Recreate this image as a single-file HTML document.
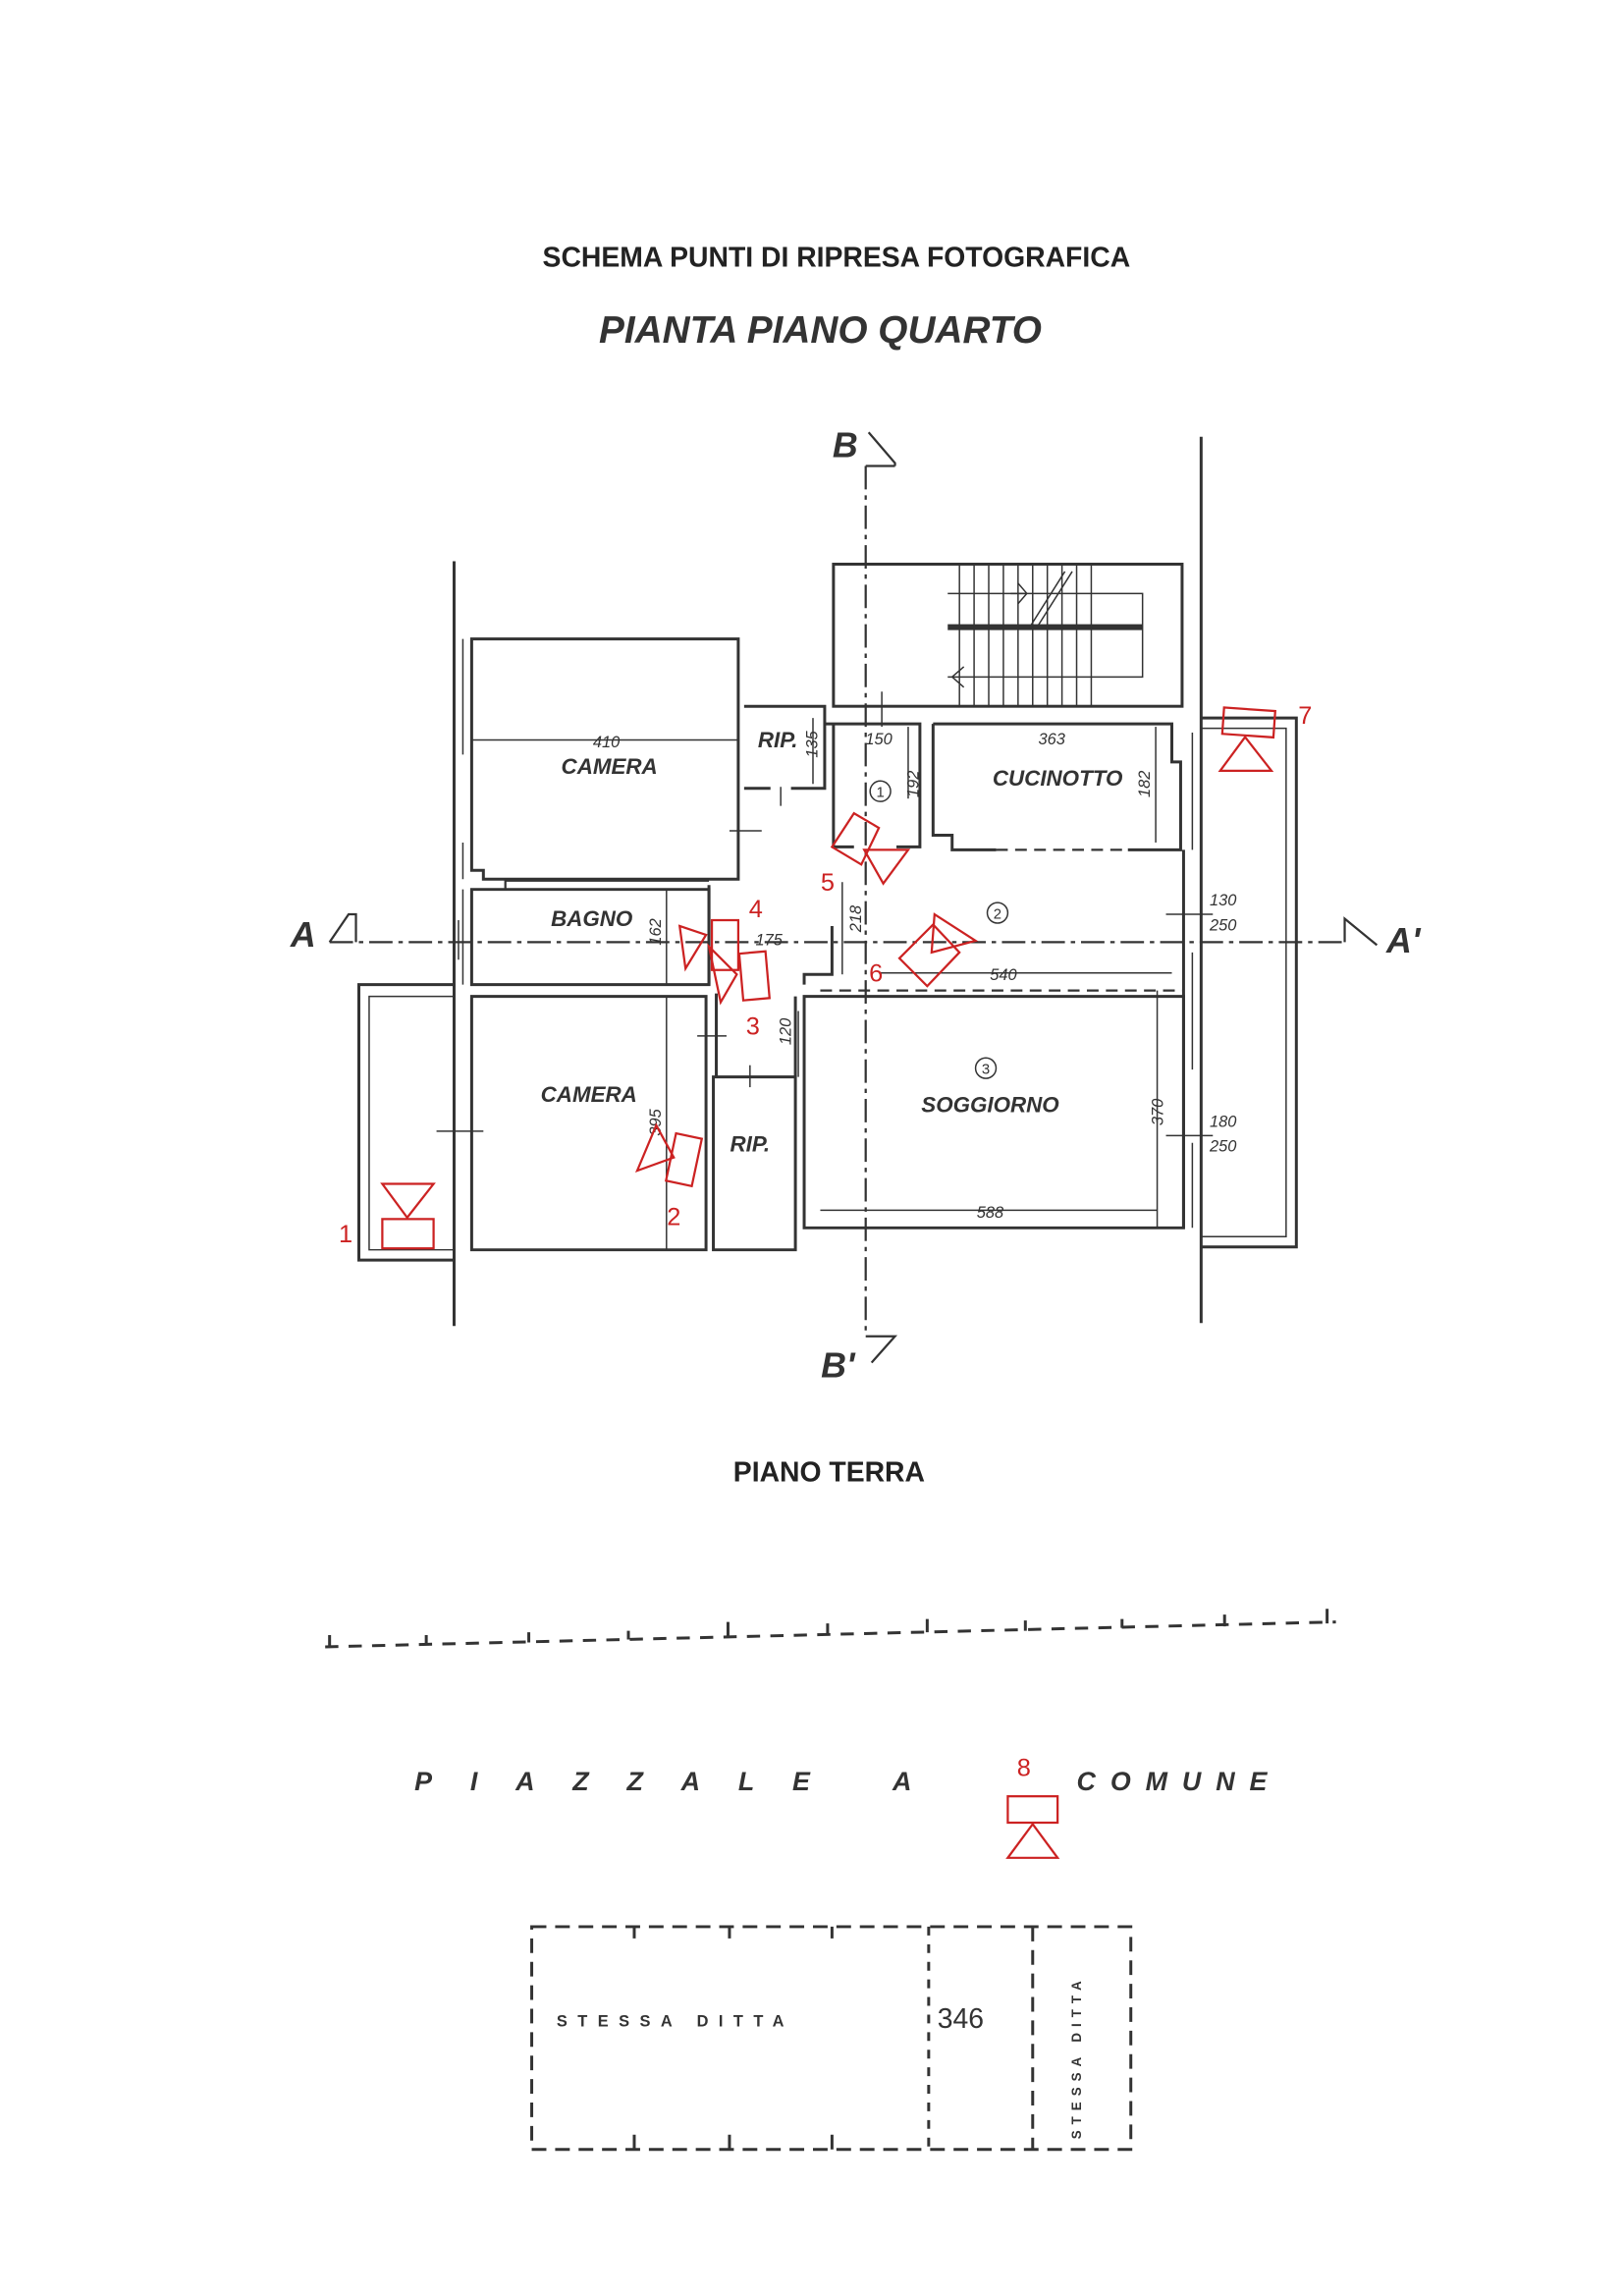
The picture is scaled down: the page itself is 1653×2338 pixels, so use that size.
<!DOCTYPE html>
<html><head><meta charset="utf-8"><style>
html,body{margin:0;padding:0;background:#fff}
svg{display:block}
text{font-family:"Liberation Sans",sans-serif}
</style></head><body>
<svg width="1653" height="2338" viewBox="0 0 1108 1567" xmlns="http://www.w3.org/2000/svg">
<rect width="1108" height="1567" fill="#fff"/>
<text x="571" y="182" font-size="19" font-weight="bold" text-anchor="middle" fill="#222">SCHEMA PUNTI DI RIPRESA FOTOGRAFICA</text>
<text x="560" y="234" font-size="26" font-weight="bold" font-style="italic" text-anchor="middle" fill="#333">PIANTA PIANO QUARTO</text>

<g stroke="#333" fill="none" stroke-width="2">
<!-- outer vertical lines -->
<line x1="310" y1="383" x2="310" y2="905"/>
<line x1="820" y1="298" x2="820" y2="903"/>
<!-- stair -->
<rect x="569" y="385" width="238" height="97"/>
<line x1="647" y1="428" x2="780" y2="428" stroke-width="4"/>
<path d="M647,405 H780 V462 H647" stroke-width="1"/>
<g stroke-width="1">
<line x1="655" y1="385" x2="655" y2="482"/><line x1="665" y1="385" x2="665" y2="482"/><line x1="675" y1="385" x2="675" y2="482"/><line x1="685" y1="385" x2="685" y2="482"/><line x1="695" y1="385" x2="695" y2="482"/><line x1="705" y1="385" x2="705" y2="482"/><line x1="715" y1="385" x2="715" y2="482"/><line x1="725" y1="385" x2="725" y2="482"/><line x1="735" y1="385" x2="735" y2="482"/><line x1="745" y1="385" x2="745" y2="482"/>
<line x1="703" y1="428" x2="727" y2="390"/><line x1="708" y1="428" x2="732" y2="390"/>
<path d="M690,405 l10,0 M695,398 l6,7 l-6,7"/>
<path d="M650,462 l8,-7 M650,462 l8,7"/>
</g>
<!-- camera top -->
<path d="M322,436 H504 V600 H330 V594 H322 Z"/>
<line x1="322" y1="505" x2="504" y2="505" stroke-width="1"/>
<path d="M316,436 V515 M316,575 V600" stroke-width="1"/>
<!-- rip top -->
<path d="M508,482 H563 V538 H540 M526,538 H508 Z"/>
<line x1="555" y1="490" x2="555" y2="535" stroke-width="1"/>
<!-- hall walls -->
<path d="M569,494 V578 H583"/>
<path d="M563,494 H628 V578 H612"/>
<path d="M637,494 H800 V520 H806 V580 H770"/>
<path d="M637,494 V570 H650 V580 H680"/>
<line x1="680" y1="580" x2="770" y2="580" stroke-dasharray="8,5" stroke-width="1.5"/>
<!-- bagno -->
<path d="M322,607 H484 V672 H322 Z"/>
<path d="M322,607 H345 V601 H484" stroke-width="1.5"/>
<line x1="455" y1="607" x2="455" y2="672" stroke-width="1"/>
<path d="M316,607 V672 M313,628 V655" stroke-width="1"/>
<!-- corridor wall bits -->
<path d="M484,604 V672 M489,678 V735 M543,680 V735"/>
<path d="M568,632 V665 H549 V672"/>
<!-- camera bottom -->
<path d="M322,680 H482 V853 H322 Z"/>
<line x1="455" y1="680" x2="455" y2="853" stroke-width="1"/>
<!-- rip bottom -->
<path d="M487,735 H543 V853 H487 Z"/>
<!-- soggiorno -->
<path d="M549,680 H808 V838 H549 Z"/>
<line x1="560" y1="676" x2="808" y2="676" stroke-dasharray="8,5" stroke-width="1.5"/>
<line x1="790" y1="676" x2="790" y2="838" stroke-width="1"/>
<line x1="560" y1="826" x2="790" y2="826" stroke-width="1"/>
<line x1="600" y1="664" x2="800" y2="664" stroke-width="1"/>
<line x1="808" y1="580" x2="808" y2="838"/>
<path d="M814,500 V580 M814,650 V730 M814,780 V838" stroke-width="1"/>
<!-- balconies -->
<path d="M310,672 H245 V860 H310"/>
<path d="M310,680 H252 V853 H310" stroke-width="1"/>
<path d="M820,490 H885 V851 H820"/>
<path d="M820,497 H878 V844 H820" stroke-width="1"/>
<!-- ticks -->
<g stroke-width="1">
<line x1="298" y1="772" x2="330" y2="772"/><line x1="498" y1="567" x2="520" y2="567"/><line x1="476" y1="707" x2="496" y2="707"/>
<line x1="533" y1="537" x2="533" y2="550"/><line x1="512" y1="727" x2="512" y2="742"/>
<line x1="796" y1="624" x2="828" y2="624"/><line x1="796" y1="775" x2="828" y2="775"/>
<line x1="602" y1="472" x2="602" y2="496"/><line x1="620" y1="496" x2="620" y2="545"/><line x1="789" y1="496" x2="789" y2="575"/>
<line x1="575" y1="602" x2="575" y2="665"/><line x1="545" y1="690" x2="545" y2="735"/>
</g>
</g>
<!-- section lines -->
<g stroke="#333" fill="none" stroke-width="1.5">
<line x1="591" y1="318" x2="591" y2="912" stroke-dasharray="16,4,3,4"/>
<path d="M593,295 L611,316 V318 M591,318 H611"/>
<path d="M591,912 H611 L595,930"/>
<line x1="225" y1="643" x2="918" y2="643" stroke-dasharray="16,4,3,4"/>
<path d="M225,643 L238,624 H243 V643"/>
<path d="M918,643 V627 L940,645"/>
</g>
<g font-weight="bold" font-style="italic" fill="#333">
<text x="577" y="312" font-size="24" text-anchor="middle">B</text>
<text x="572" y="940" font-size="24" text-anchor="middle">B'</text>
<text x="207" y="646" font-size="24" text-anchor="middle">A</text>
<text x="958" y="650" font-size="24" text-anchor="middle">A'</text>
<g font-size="15" text-anchor="middle">
<text x="416" y="528">CAMERA</text>
<text x="531" y="510">RIP.</text>
<text x="722" y="536">CUCINOTTO</text>
<text x="404" y="632">BAGNO</text>
<text x="402" y="752">CAMERA</text>
<text x="512" y="786">RIP.</text>
<text x="676" y="759">SOGGIORNO</text>
</g>
<g font-size="11" font-weight="normal" text-anchor="middle">
<text x="414" y="510">410</text><text x="600" y="508">150</text><text x="718" y="508">363</text>
<text x="525" y="645">175</text><text x="685" y="669">540</text><text x="676" y="831">588</text>
<text x="835" y="618">130</text><text x="835" y="635">250</text>
<text x="835" y="769">180</text><text x="835" y="786">250</text>
<text transform="translate(558,508) rotate(-90)">135</text>
<text transform="translate(627,535) rotate(-90)">192</text>
<text transform="translate(785,535) rotate(-90)">182</text>
<text transform="translate(451,636) rotate(-90)">162</text>
<text transform="translate(588,627) rotate(-90)">218</text>
<text transform="translate(540,704) rotate(-90)">120</text>
<text transform="translate(451,766) rotate(-90)">395</text>
<text transform="translate(794,759) rotate(-90)">370</text>
</g>
</g>
<g fill="none" stroke="#333" stroke-width="1">
<circle cx="601" cy="540" r="7"/><circle cx="681" cy="623" r="7"/><circle cx="673" cy="729" r="7"/>
</g>
<g font-size="10" fill="#333" text-anchor="middle"><text x="601" y="544">1</text><text x="681" y="627">2</text><text x="673" y="733">3</text></g>

<!-- red markers -->
<g stroke="#c22" fill="none" stroke-width="1.5">
<rect x="261" y="832" width="35" height="20"/><path d="M261,808 H296 L278,831 Z"/>
<rect x="835" y="484" width="35" height="18" transform="rotate(4 852 493)"/><path d="M833,526 H868 L850,503 Z"/>
<path d="M435,799 L448,768 L460,790 Z"/><rect x="458" y="775" width="18" height="33" transform="rotate(12 467 791)"/>
<path d="M464,632 L482,638 L468,661 Z"/><rect x="486" y="628" width="18" height="34"/>
<path d="M484,646 L492,684 L503,665 Z"/><rect x="506" y="650" width="18" height="32" transform="rotate(-5 515 666)"/>
<path d="M568,578 L583,555 L600,565 L588,590 Z"/><path d="M590,580 L620,580 L603,603 Z"/>
<path d="M614,654 L637,631 L655,650 L633,673 Z"/><path d="M636,650 L638,624 L666,642 Z"/>
<rect x="688" y="1226" width="34" height="18"/><path d="M688,1268 H722 L705,1245 Z"/>
</g>
<g fill="#c22" font-size="17" text-anchor="middle">
<text x="236" y="848">1</text><text x="460" y="836">2</text><text x="514" y="706">3</text><text x="516" y="626">4</text>
<text x="565" y="608">5</text><text x="598" y="670">6</text><text x="891" y="494">7</text><text x="699" y="1212">8</text>
</g>

<text x="566" y="1011" font-size="19" font-weight="bold" text-anchor="middle" fill="#222">PIANO TERRA</text>
<g stroke="#333" stroke-width="2" fill="none">
<line x1="222" y1="1124" x2="912" y2="1107" stroke-dasharray="9,7"/>
<path d="M225,1124 v-8 M291,1122 v-6 M361,1121 v-7 M429,1119 v-6 M497,1117 v-10 M565,1116 v-8 M633,1114 v-9 M700,1113 v-7 M766,1111 v-6 M836,1110 v-8 M906,1108 v-10"/>
<rect x="363" y="1315" width="409" height="152" stroke-dasharray="10,6"/>
<line x1="634" y1="1315" x2="634" y2="1467" stroke-dasharray="6,6"/>
<line x1="705" y1="1315" x2="705" y2="1467" stroke-dasharray="10,6"/>
<path d="M433,1315 v8 M498,1315 v8 M568,1315 v8 M433,1467 v-10 M498,1467 v-10 M568,1467 v-10"/>
</g>
<text x="283" y="1222" font-size="18" font-style="italic" font-weight="bold" fill="#333" letter-spacing="26">PIAZZALE A</text>
<text x="735" y="1222" font-size="18" font-style="italic" font-weight="bold" fill="#333" letter-spacing="10">COMUNE</text>
<text x="380" y="1383" font-size="11" font-weight="bold" fill="#333" letter-spacing="7">STESSA  DITTA</text>
<text x="640" y="1384" font-size="19" fill="#333">346</text>
<text transform="translate(738,1460) rotate(-90)" font-size="9" font-weight="bold" fill="#333" letter-spacing="4">STESSA DITTA</text>
</svg>
</body></html>
